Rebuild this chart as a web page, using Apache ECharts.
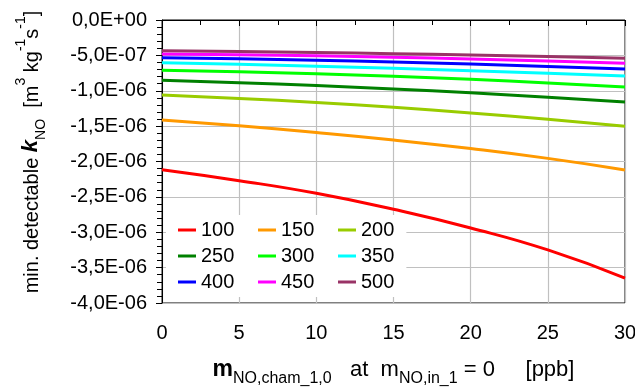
<!DOCTYPE html>
<html>
<head>
<meta charset="utf-8">
<script src="https://cdn.jsdelivr.net/npm/echarts@6/dist/echarts.min.js"></script>
<style>
  html, body { margin: 0; padding: 0; background: #fff; }
  #chart { width: 635px; height: 388px; }
</style>
</head>
<body>
<div id="chart"></div>
<script>
// m_NO,cham_1,0 [ppb]
const mCham = [0, 5, 10, 15, 20, 25, 30];

// Series names (legend labels)
const names = ['100', '150', '200', '250', '300', '350', '400', '450', '500'];

// min. detectable k_NO [m3 kg-1 s-1] for each series
const k100 = [-2.116e-6, -2.271e-6, -2.450e-6, -2.676e-6, -2.940e-6, -3.250e-6, -3.647e-6];
const k150 = [-1.413e-6, -1.496e-6, -1.590e-6, -1.696e-6, -1.817e-6, -1.956e-6, -2.119e-6];
const k200 = [-1.060e-6, -1.108e-6, -1.166e-6, -1.234e-6, -1.313e-6, -1.402e-6, -1.502e-6];
const k250 = [-0.852e-6, -0.886e-6, -0.927e-6, -0.975e-6, -1.030e-6, -1.091e-6, -1.159e-6];
const k300 = [-0.711e-6, -0.732e-6, -0.760e-6, -0.796e-6, -0.839e-6, -0.889e-6, -0.947e-6];
const k350 = [-0.604e-6, -0.627e-6, -0.653e-6, -0.683e-6, -0.716e-6, -0.752e-6, -0.792e-6];
const k400 = [-0.533e-6, -0.549e-6, -0.569e-6, -0.594e-6, -0.623e-6, -0.656e-6, -0.693e-6];
const k450 = [-0.481e-6, -0.492e-6, -0.507e-6, -0.527e-6, -0.551e-6, -0.579e-6, -0.612e-6];
const k500 = [-0.434e-6, -0.446e-6, -0.459e-6, -0.476e-6, -0.495e-6, -0.517e-6, -0.541e-6];

const values = [k100, k150, k200, k250, k300, k350, k400, k450, k500];
const colors = ['#ff0000', '#ff9900', '#99cc00', '#008000', '#00ff00',
                '#00ffff', '#0000ff', '#ff00ff', '#993366'];

const FONT = '"Liberation Sans", Arial, sans-serif';
const FS = 20;

// Excel-like scientific label: 0,0E+00 / -5,0E-07
function sci(v) {
  if (Math.abs(v) < 1e-15) v = 0;
  const s = v.toExponential(1);
  const [mant, exp] = s.split('e');
  const e = parseInt(exp, 10);
  const sign = e < 0 ? '-' : '+';
  const ee = String(Math.abs(e)).padStart(2, '0');
  return mant.replace('.', ',') + 'E' + sign + ee;
}

const series = names.map((n, i) => ({
  name: n,
  type: 'line',
  smooth: true,
  symbol: 'none',
  color: colors[i],
  lineStyle: { width: 3, color: colors[i] },
  data: mCham.map((x, j) => [x, values[i][j]]),
  z: 2 + i
}));

// legend in three columns
const legendCols = [[0, 3, 6], [1, 4, 7], [2, 5, 8]];
const legendLefts = [166, 246, 326];
const legends = legendCols.map((col, c) => ({
  orient: 'vertical',
  left: legendLefts[c],
  top: 215,
  padding: [5, 12, 5, 12],
  backgroundColor: '#ffffff',
  icon: 'rect',
  itemWidth: 18,
  itemHeight: 3,
  itemGap: 6,
  data: col.map(i => names[i]),
  textStyle: { fontFamily: FONT, fontSize: FS, color: '#000', lineHeight: 20, padding: [0, 0, 0, 0] },
  z: 20
}));

const chart = echarts.init(document.getElementById('chart'), null, { renderer: 'canvas' });
chart.setOption({
  animation: false,
  backgroundColor: '#ffffff',
  grid: {
    left: 162, right: 10, top: 20, bottom: 85,
    outerBoundsMode: 'none',
    containLabel: false,
    show: true, borderColor: '#000', borderWidth: 1, backgroundColor: 'transparent'
  },
  legend: legends,
  xAxis: {
    type: 'value',
    min: 0, max: 30, interval: 5,
    axisLine: { show: true, lineStyle: { color: '#000', width: 1 } },
    axisTick: { show: true, inside: false, length: 6, lineStyle: { color: '#000' } },
    minorTick: { show: true, splitNumber: 2, length: 5, lineStyle: { color: '#000' } },
    splitLine: { show: true, lineStyle: { color: '#c0c0c0', width: 1.2 } },
    axisLabel: { margin: 20, fontFamily: FONT, fontSize: FS, color: '#000' },
    name: '{b|m}{s|NO,cham_1,0}{t|   at  m}{s|NO,in_1}{t| = 0     [ppb]}',
    nameLocation: 'middle',
    nameGap: 52,
    nameTextStyle: {
      fontFamily: FONT, color: '#000',
      rich: {
        b: { fontFamily: FONT, fontSize: 23, fontWeight: 'bold', color: '#000', verticalAlign: 'bottom', lineHeight: 26 },
        t: { fontFamily: FONT, fontSize: 22, color: '#000', verticalAlign: 'bottom', lineHeight: 26 },
        s: { fontFamily: FONT, fontSize: 16, color: '#000', verticalAlign: 'bottom', lineHeight: 26, padding: [0, 0, -6, 0] }
      }
    }
  },
  yAxis: {
    type: 'value',
    min: -4e-6, max: 0, interval: 5e-7,
    axisLine: { show: true, onZero: false, lineStyle: { color: '#000', width: 1 } },
    axisTick: { show: true, inside: false, length: 6, lineStyle: { color: '#000' } },
    minorTick: { show: true, splitNumber: 5, length: 5, lineStyle: { color: '#000' } },
    splitLine: { show: true, lineStyle: { color: '#c0c0c0', width: 1.2 } },
    axisLabel: { margin: 15, fontFamily: FONT, fontSize: FS, color: '#000', formatter: sci }
  },
  graphic: [{
    type: 'text',
    x: 30, y: 152,
    rotation: Math.PI / 2,
    style: {
      text: '{t|min. detectable }{k|k}{s|NO}{t|  [m}{p|3}{t| kg}{p|-1}{t|s}{p|-1}{t|]}',
      align: 'center',
      verticalAlign: 'middle',
      rich: {
        t: { fontFamily: FONT, fontSize: FS, fill: '#000', verticalAlign: 'bottom', lineHeight: 24 },
        k: { fontFamily: FONT, fontSize: FS + 2, fontWeight: 'bold', fontStyle: 'italic', fill: '#000', verticalAlign: 'bottom', lineHeight: 24 },
        s: { fontFamily: FONT, fontSize: 14, fill: '#000', verticalAlign: 'bottom', lineHeight: 24, padding: [0, 0, -6, 0] },
        p: { fontFamily: FONT, fontSize: 14, fill: '#000', verticalAlign: 'top', lineHeight: 24, padding: [-4, 0, 0, 0] }
      }
    }
  }],
  series: series
});
</script>
</body>
</html>
